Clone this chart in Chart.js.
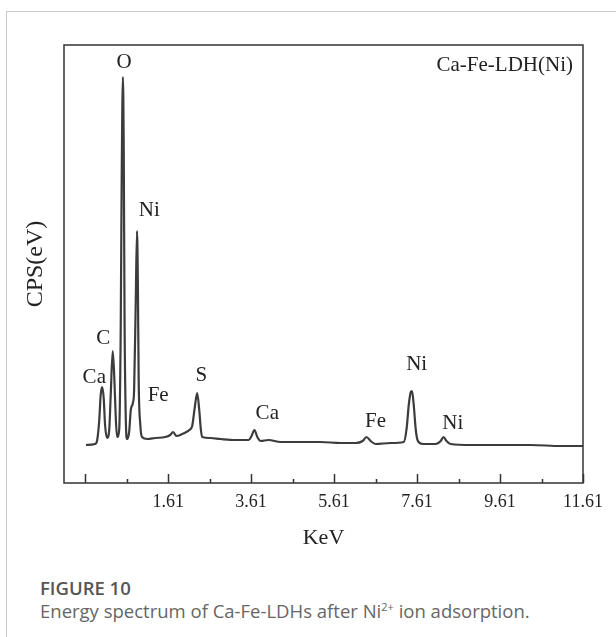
<!DOCTYPE html>
<html>
<head>
<meta charset="utf-8">
<script src="https://cdn.jsdelivr.net/npm/chart.js@4/dist/chart.umd.min.js"></script>
<style>
html, body { margin: 0; padding: 0; background: #fff; }
#frame { position: absolute; left: 6px; top: 11px; right: 0; bottom: 0; border-top: 1px solid #c8c8c8; border-left: 1px solid #c8c8c8; }
#wrap { position: absolute; left: 0; top: 0; width: 616px; height: 560px; }
.cap { position: absolute; left: 40px; font-family: "Open Sans", sans-serif; line-height: 1; white-space: nowrap; }
#fig { top: 579px; font-size: 18.5px; font-weight: 600; color: #555; }
#desc { top: 602px; font-size: 18.5px; color: #666; }
</style>
</head>
<body>
<div id="frame"></div>
<div id="wrap"><canvas id="eds" width="616" height="560"></canvas></div>
<div class="cap" id="fig">FIGURE 10</div>
<div class="cap" id="desc">Energy spectrum of Ca-Fe-LDHs after Ni<sup style="font-size:11px;line-height:0">2+</sup> ion adsorption.</div>
<script>
// spectrum (keV, counts in arbitrary units)
const energy = [-0.37, -0.15, -0.1, -0.05, -0.016, 0.02, 0.057, 0.09, 0.14, 0.19, 0.226, 0.274, 0.31, 0.35, 0.38,
  0.43, 0.467, 0.49, 0.52, 0.54, 0.56, 0.59, 0.62, 0.67, 0.71, 0.76, 0.79, 0.83, 0.86, 0.88, 0.9, 0.94, 0.98,
  1.11, 1.3, 1.54, 1.66, 1.73, 1.81, 1.95, 2.05, 2.12, 2.19, 2.25, 2.31, 2.36, 2.4, 2.43, 2.63, 2.87, 3.23,
  3.55, 3.62, 3.69, 3.76, 3.84, 4.03, 4.32, 4.8, 5.28, 5.77, 6.13, 6.3, 6.39, 6.49, 6.61, 6.97, 7.29, 7.36,
  7.41, 7.46, 7.49, 7.53, 7.58, 7.63, 7.75, 8.06, 8.18, 8.25, 8.32, 8.42, 8.9, 9.63, 10.35, 11.08, 11.63];
const counts = [38, 39, 43, 63, 88, 96, 85, 58, 45, 53, 88, 132, 108, 63, 46,
  53, 153, 301, 406, 333, 163, 63, 44, 51, 73, 80, 93, 183, 252, 203, 103, 58, 46,
  44, 45, 46, 48, 51, 47, 49, 51, 53, 57, 75, 90, 73, 53, 46, 45, 44, 43,
  43, 47, 53, 46, 42, 43, 41, 41, 41, 40, 40, 42, 46, 42, 39, 40, 41, 55,
  78, 91, 92, 78, 53, 42, 39, 39, 42, 46, 42, 39, 38, 38, 38, 37, 37];

// peak labels
const peakNames = ['O', 'Ni', 'C', 'Ca', 'Fe', 'S', 'Ca', 'Fe', 'Ni', 'Ni'];
const peakKeV = [0.55, 1.155, 0.045, -0.17, 1.37, 2.41, 4.0, 6.61, 7.6, 8.47];
const peakCounts = [421, 273, 145, 106, 88, 108, 70, 62, 119, 60];

const majorTicks = [-0.39, 1.61, 3.61, 5.61, 7.61, 9.61, 11.61];
const minorTicks = [0.61, 2.61, 4.61, 6.61, 8.61, 10.61];
const labelTicks = [1.61, 3.61, 5.61, 7.61, 9.61, 11.61];

const serif = '"Liberation Serif", "Times New Roman", serif';

const boxAndLabels = {
  id: 'boxAndLabels',
  afterDraw(chart) {
    const { ctx, chartArea: a, scales: { x, y } } = chart;
    ctx.save();
    ctx.strokeStyle = '#333';
    ctx.lineWidth = 1.5;
    ctx.strokeRect(a.left, a.top, a.right - a.left, a.bottom - a.top);
    ctx.beginPath();
    majorTicks.forEach(v => {
      const px = Math.round(x.getPixelForValue(v)) + 0.5;
      ctx.moveTo(px, a.bottom);
      ctx.lineTo(px, a.bottom - 9);
    });
    minorTicks.forEach(v => {
      const px = Math.round(x.getPixelForValue(v)) + 0.5;
      ctx.moveTo(px, a.bottom);
      ctx.lineTo(px, a.bottom - 4);
    });
    ctx.stroke();

    ctx.fillStyle = '#222';
    ctx.font = '21px ' + serif;
    ctx.textAlign = 'center';
    ctx.textBaseline = 'middle';
    peakNames.forEach((t, i) => {
      ctx.fillText(t, x.getPixelForValue(peakKeV[i]), y.getPixelForValue(peakCounts[i]));
    });
    ctx.textAlign = 'right';
    ctx.fillText('Ca-Fe-LDH(Ni)', a.right - 10, a.top + 20);
    ctx.restore();
  }
};

new Chart(document.getElementById('eds'), {
  type: 'line',
  data: {
    datasets: [{
      data: energy.map((e, i) => ({ x: e, y: counts[i] })),
      borderColor: '#3c3c3c',
      borderWidth: 2.2,
      pointRadius: 0,
      cubicInterpolationMode: 'monotone',
      fill: false
    }]
  },
  options: {
    responsive: false,
    animation: false,
    layout: { padding: { top: 45, right: 33, left: 0, bottom: 0 } },
    plugins: { legend: { display: false }, tooltip: { enabled: false } },
    scales: {
      x: {
        type: 'linear',
        min: -0.9,
        max: 11.61,
        afterBuildTicks: scale => { scale.ticks = majorTicks.concat(minorTicks).sort((p, q) => p - q).map(v => ({ value: v })); },
        afterFit: scale => { scale.height = 77; scale.paddingLeft = 0; scale.paddingRight = 0; },
        grid: { display: false, drawTicks: false },
        border: { display: false },
        ticks: {
          autoSkip: false,
          maxRotation: 0,
          padding: 8,
          color: '#222',
          font: { family: serif, size: 18 },
          callback: v => labelTicks.includes(v) ? v.toFixed(2) : ''
        },
        title: { display: true, text: 'KeV', color: '#222', font: { family: serif, size: 22 }, padding: { top: 10, bottom: 9 } }
      },
      y: {
        min: 0,
        max: 438,
        afterFit: scale => { scale.width = 64; },
        grid: { display: false, drawTicks: false },
        border: { display: false },
        ticks: { display: false },
        title: { display: true, text: 'CPS(eV)', color: '#222', font: { family: serif, size: 24 }, padding: { top: 21, bottom: 0 } }
      }
    }
  },
  plugins: [boxAndLabels]
});
</script>
</body>
</html>
